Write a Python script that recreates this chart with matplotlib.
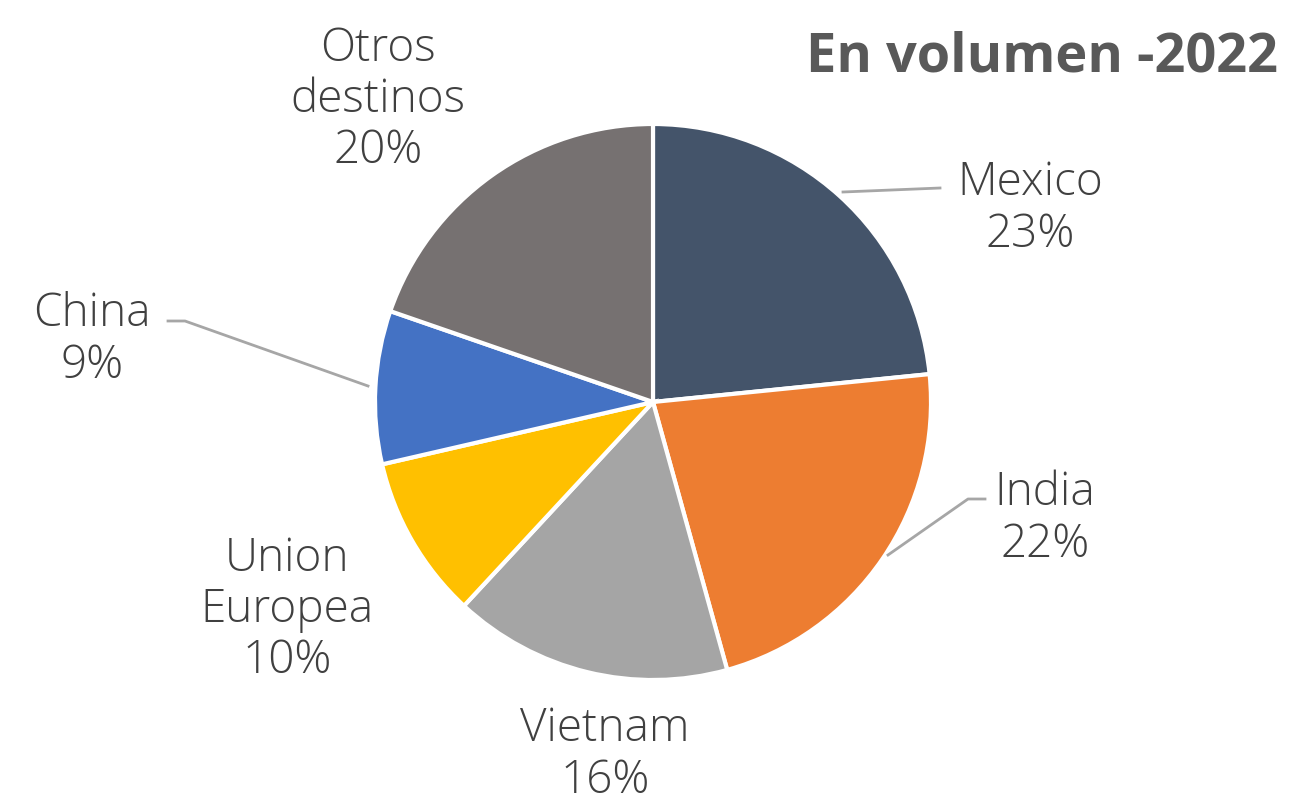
import matplotlib.pyplot as plt

# data
countries = ['Mexico', 'India', 'Vietnam', 'Union\nEuropea', 'China', 'Otros\ndestinos']
shares = [23.4, 22.3, 16.2, 9.5, 8.9, 19.7]
colors = ['#44546A', '#ED7D31', '#A5A5A5', '#FFC000', '#4472C4', '#767171']
title = 'En volumen -2022'

W, H = 1289, 804
fig = plt.figure(figsize=(W / 100, H / 100), dpi=100)
ax = fig.add_axes([0, 0, 1, 1])

cx, cy, r = 653, H - 403, 278
ax.pie(shares, colors=colors, startangle=90, counterclock=False,
       center=(cx, cy), radius=r, frame=True,
       wedgeprops=dict(edgecolor='white', linewidth=3))
ax.set_xlim(0, W)
ax.set_ylim(0, H)
ax.set_aspect('equal')
ax.axis('off')

# label positions (pixel coords, y from top)
label_pos = [(1030, 209), (1045, 519), (605, 755), (287, 610), (92, 340), (378, 100)]
for name, val, (x, y) in zip(countries, shares, label_pos):
    ax.text(x, H - y, f'{name}\n{val:.0f}%', ha='center', va='center',
            fontsize=33, family='Open Sans', weight='light', color='#404040',
            linespacing=1.15)

# leader lines
lc = '#A6A6A6'
ax.plot([843, 940], [H - 193, H - 189], color=lc, lw=2)
ax.plot([888, 968, 985], [H - 556, H - 500, H - 500], color=lc, lw=2)
ax.plot([368, 185, 168], [H - 387, H - 322, H - 322], color=lc, lw=2)

ax.text(1278, H - 57, title, ha='right', va='center', fontsize=39,
        family='Open Sans', weight='bold', color='#595959')

fig.savefig('out.png', dpi=100)
